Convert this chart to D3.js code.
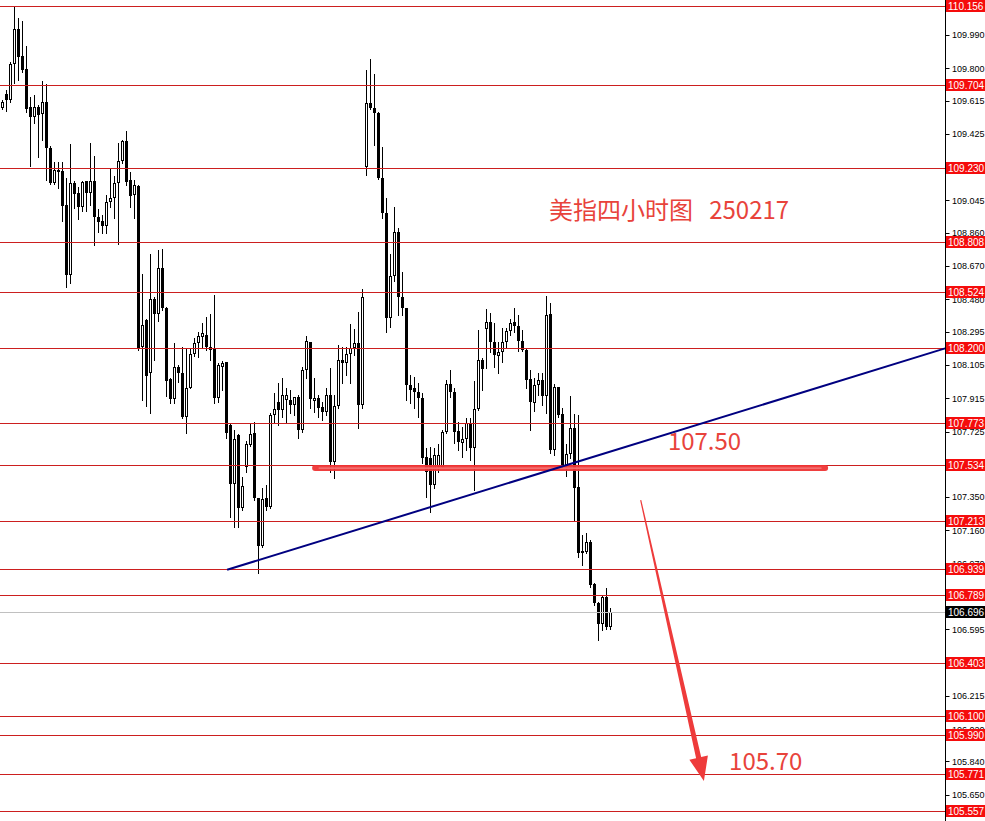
<!DOCTYPE html>
<html><head><meta charset="utf-8">
<script src="https://cdn.jsdelivr.net/npm/d3@7"></script>
<style>html,body{margin:0;padding:0;background:#fff;overflow:hidden}</style>
</head><body>
<svg id="c" width="985" height="821"></svg>
<script>
// ---- data (US Dollar Index, 4-hour candles) ----
const opens = [
109.573,109.653,109.619,109.824,110.024,109.870,109.796,109.579,109.522,109.579,
109.539,109.608,109.345,109.145,109.219,109.213,109.018,108.619,109.145,109.088,
109.007,109.156,109.088,109.156,108.950,108.927,108.898,109.036,109.059,109.145,
109.271,109.385,109.162,109.076,109.128,108.207,108.362,108.059,108.481,108.396,
108.659,108.430,108.025,107.910,108.093,108.059,107.808,107.973,108.167,108.230,
108.265,108.276,108.207,108.196,107.916,108.093,108.122,107.762,107.425,107.705,
107.287,107.522,107.648,107.716,107.345,107.070,107.345,107.293,107.819,107.894,
107.848,107.905,107.905,107.876,107.922,107.734,108.076,108.236,107.899,107.916,
107.865,107.836,107.933,107.551,107.871,108.133,108.116,108.167,108.202,108.230,
107.876,109.236,109.602,109.573,109.545,109.173,108.973,108.373,108.613,108.864,
108.493,108.430,107.990,107.973,107.950,107.916,107.579,107.574,107.419,107.522,
107.522,107.722,107.996,107.950,107.728,107.659,107.682,107.774,107.631,107.854,
108.133,108.310,108.350,108.236,108.156,108.179,108.236,108.299,108.350,108.327,
108.242,108.190,108.025,107.888,107.990,108.019,107.928,108.396,107.619,107.979,
107.825,107.534,107.596,107.745,107.408,107.042,107.036,107.093,106.853,106.745,
106.625,106.779,106.608];
const highs = [
109.619,109.676,109.836,110.150,110.087,110.070,109.927,109.636,109.647,109.590,
109.727,109.710,109.356,109.265,109.265,109.265,109.173,109.368,109.156,109.122,
109.156,109.156,109.373,109.299,108.996,108.961,109.076,109.225,109.185,109.373,
109.390,109.442,109.208,109.162,109.133,108.624,108.367,108.738,108.493,108.761,
108.767,108.436,108.030,108.230,108.105,108.207,108.202,108.202,108.259,108.293,
108.345,108.379,108.396,108.504,108.116,108.128,108.122,107.774,107.734,107.711,
107.465,107.671,107.774,107.779,107.345,107.402,107.419,107.831,107.945,108.002,
108.030,107.973,107.962,107.922,107.933,108.093,108.270,108.236,108.030,107.933,
107.894,107.973,108.088,107.933,108.219,108.207,108.207,108.339,108.310,108.407,
108.539,109.790,109.853,109.767,109.551,109.350,109.059,108.738,109.007,108.887,
108.636,108.430,108.048,108.036,108.002,107.945,107.631,107.636,107.631,107.654,
107.734,108.019,108.076,107.973,107.779,107.751,107.802,107.802,108.013,108.305,
108.145,108.425,108.402,108.345,108.236,108.316,108.316,108.367,108.430,108.390,
108.305,108.196,108.076,108.030,108.059,108.059,108.499,108.459,107.996,107.979,
107.859,107.654,107.928,107.825,107.819,107.133,107.144,107.104,106.859,106.751,
106.791,106.830,106.716];
const lows = [
109.568,109.556,109.608,109.716,109.733,109.779,109.550,109.242,109.488,109.293,
109.390,109.162,109.139,109.139,109.116,108.927,108.550,108.573,109.001,108.938,
108.984,108.984,109.018,108.790,108.864,108.858,108.858,109.007,108.944,108.796,
109.259,109.133,109.007,108.944,108.190,107.905,107.871,107.831,108.133,108.356,
108.419,107.928,107.888,107.888,108.008,107.802,107.716,107.973,108.156,108.150,
108.207,108.190,108.133,107.888,107.894,107.962,107.688,107.236,107.179,107.179,
107.276,107.494,107.642,107.333,106.916,107.064,107.276,107.287,107.774,107.762,
107.808,107.774,107.831,107.819,107.688,107.722,108.030,107.859,107.836,107.808,
107.791,107.819,107.494,107.459,107.859,108.002,108.048,108.002,108.162,107.745,
107.859,109.191,109.568,109.362,109.168,108.944,108.293,108.322,108.584,108.390,
108.390,107.905,107.888,107.859,107.808,107.545,107.351,107.264,107.402,107.494,
107.522,107.716,107.922,107.659,107.619,107.579,107.619,107.562,107.391,107.848,
107.962,108.088,108.179,108.093,108.059,108.122,108.207,108.276,108.293,108.185,
108.185,107.973,107.734,107.842,107.933,107.876,107.831,107.602,107.591,107.808,
107.522,107.471,107.574,107.219,107.007,106.962,107.030,106.836,106.733,106.533,
106.591,106.596,106.596];
const closes = [
109.608,109.619,109.824,110.024,109.864,109.790,109.568,109.522,109.579,109.533,
109.608,109.345,109.145,109.219,109.208,109.013,108.619,109.145,109.082,109.007,
109.151,109.088,109.156,108.950,108.921,108.898,109.036,109.059,109.145,109.271,
109.385,109.151,109.071,109.133,108.202,108.333,108.042,108.481,108.396,108.659,
108.430,108.013,107.910,108.093,108.059,107.808,107.973,108.167,108.230,108.270,
108.287,108.207,108.190,107.916,108.105,108.116,107.716,107.425,107.682,107.287,
107.414,107.654,107.711,107.345,107.070,107.339,107.293,107.819,107.854,107.848,
107.933,107.933,107.876,107.922,107.734,108.076,108.242,107.910,107.916,107.859,
107.836,107.933,107.551,107.871,108.133,108.116,108.167,108.202,108.230,107.876,
108.493,109.602,109.573,109.545,109.173,108.973,108.373,108.613,108.864,108.493,
108.430,107.990,107.962,107.950,107.916,107.574,107.494,107.419,107.591,107.591,
107.722,107.996,107.950,107.722,107.665,107.682,107.774,107.631,107.854,108.133,
108.082,108.350,108.236,108.162,108.179,108.236,108.299,108.345,108.327,108.242,
108.190,108.019,107.894,107.990,108.019,107.928,108.390,107.619,107.979,107.819,
107.534,107.596,107.745,107.402,107.030,107.030,107.093,106.847,106.745,106.625,
106.779,106.608,106.696];

const levels = [110.156,109.704,109.230,108.808,108.524,108.200,107.773,107.534,107.213,106.939,106.789,106.403,106.100,105.990,105.771,105.557];
const currentPrice = 106.696;
const tickValues = [109.990,109.800,109.615,109.425,109.045,108.860,108.670,108.480,108.295,108.105,107.915,107.725,107.350,107.160,106.970,106.595,106.215,106.020,105.840,105.650];

const trendStart = {i:56.2, p:106.935}, trendEnd = {i:235.7, p:108.200};
const zone = {i0:78.2, i1:205.7, p:107.516};
const arrowFrom = {i:159.6, p:107.333}, arrowTo = {i:175.4, p:105.728};
const notes = [
  {text:"美指四小时图   250217", i:136.7, p:108.940},
  {text:"107.50", i:166.4, p:107.619},
  {text:"105.70", i:181.7, p:105.791}
];

// ---- drawing ----
const svg = d3.select("#c");
const axisX = 945.5;
const x = d3.scaleLinear().domain([0,152]).range([2.3,610.3]);
const y = d3.scaleLinear().domain([105.557,110.156]).range([811,6]);
const py = p => Math.round(y(p)) + 0.5;

svg.append("rect").attr("width",985).attr("height",821).attr("fill","#fff");

const candles = opens.map((o,i)=>({i,o,h:highs[i],l:lows[i],c:closes[i]}));
const cg = svg.append("g");
candles.forEach(d=>{
  const cx = Math.floor(x(d.i)) + 0.5;
  cg.append("line").attr("x1",cx).attr("x2",cx)
    .attr("y1",Math.round(y(d.h))).attr("y2",Math.round(y(d.l))+1)
    .attr("stroke","#000").attr("stroke-width",1);
  const top = Math.round(y(Math.max(d.o,d.c)));
  const bot = Math.round(y(Math.min(d.o,d.c)));
  const bull = d.c > d.o;
  if (bot - top < 2 || !bull) {
    cg.append("rect").attr("x",cx-1.5).attr("y",top).attr("width",3)
      .attr("height",Math.max(bot-top,1)).attr("fill","#000");
  } else {
    cg.append("rect").attr("x",cx-1).attr("y",top+0.5).attr("width",2)
      .attr("height",bot-top-1).attr("fill","#fff").attr("stroke","#000").attr("stroke-width",1);
  }
});

// current price line
svg.append("line").attr("x1",0).attr("x2",axisX).attr("y1",py(currentPrice)).attr("y2",py(currentPrice))
  .attr("stroke","#c0c0c0").attr("stroke-width",1);

// level lines
svg.append("g").selectAll("line").data(levels).join("line")
  .attr("x1",0).attr("x2",axisX).attr("y1",d=>py(d)).attr("y2",d=>py(d))
  .attr("stroke","#cc1f1f").attr("stroke-width",1);

// thick highlight at 107.50
const zg = svg.append("g");
zg.append("line").attr("x1",x(zone.i0)).attr("x2",x(zone.i1)).attr("y1",y(zone.p)).attr("y2",y(zone.p))
  .attr("stroke","#ef3535").attr("stroke-width",6).attr("stroke-linecap","round").attr("opacity",0.95);
zg.append("line").attr("x1",x(zone.i0)+4).attr("x2",x(zone.i1)-4).attr("y1",y(zone.p)).attr("y2",y(zone.p))
  .attr("stroke","#f58080").attr("stroke-width",1.2).attr("stroke-linecap","round");

// trend line
svg.append("line").attr("x1",x(trendStart.i)).attr("y1",y(trendStart.p))
  .attr("x2",x(trendEnd.i)).attr("y2",y(trendEnd.p))
  .attr("stroke","#000080").attr("stroke-width",2);

// arrow
(function(){
  const x0=x(arrowFrom.i), y0=y(arrowFrom.p), x1=x(arrowTo.i), y1=y(arrowTo.p);
  const len=Math.hypot(x1-x0,y1-y0), ux=(x1-x0)/len, uy=(y1-y0)/len, nx=-uy, ny=ux;
  const hl=24, hw=9.5, bx=x1-ux*hl, by=y1-uy*hl;
  const pts=[[x0+nx*0.6,y0+ny*0.6],[bx+nx*2.6,by+ny*2.6],[bx+nx*hw,by+ny*hw],[x1,y1],
             [bx-nx*hw,by-ny*hw],[bx-nx*2.6,by-ny*2.6],[x0-nx*0.6,y0-ny*0.6]];
  svg.append("path").attr("d","M"+pts.map(p=>p.join(",")).join("L")+"Z").attr("fill","#ee3b3b");
})();

// annotations
svg.append("g").selectAll("text").data(notes).join("text")
  .attr("x",d=>x(d.i)).attr("y",d=>y(d.p))
  .attr("font-family","'Noto Sans CJK SC','Noto Sans',sans-serif").attr("font-size",24)
  .attr("fill","#e8433b").style("white-space","pre").attr("xml:space","preserve")
  .text(d=>d.text);

// price axis
svg.append("line").attr("x1",axisX).attr("x2",axisX).attr("y1",0).attr("y2",821).attr("stroke","#000");
const ag = svg.append("g").attr("font-family","'Liberation Sans',Arial,sans-serif");
tickValues.forEach(v=>{
  ag.append("line").attr("x1",axisX).attr("x2",axisX+4).attr("y1",py(v)).attr("y2",py(v)).attr("stroke","#000");
  ag.append("text").attr("x",952).attr("y",y(v)).attr("dy","0.36em").attr("font-size",9).attr("fill","#000").text(v.toFixed(3));
});
levels.forEach(v=>{
  const cy=Math.round(y(v));
  ag.append("rect").attr("x",946).attr("y",cy-6).attr("width",39).attr("height",12).attr("fill","#f50c0c");
  ag.append("text").attr("x",948).attr("y",cy).attr("dy","0.36em").attr("font-size",10).attr("fill","#fff").text(v.toFixed(3));
});
{
  const cy=Math.round(y(currentPrice));
  ag.append("rect").attr("x",946).attr("y",cy-6).attr("width",39).attr("height",12).attr("fill","#000");
  ag.append("text").attr("x",948).attr("y",cy).attr("dy","0.36em").attr("font-size",10).attr("fill","#fff").text(currentPrice.toFixed(3));
}
</script>
</body></html>
